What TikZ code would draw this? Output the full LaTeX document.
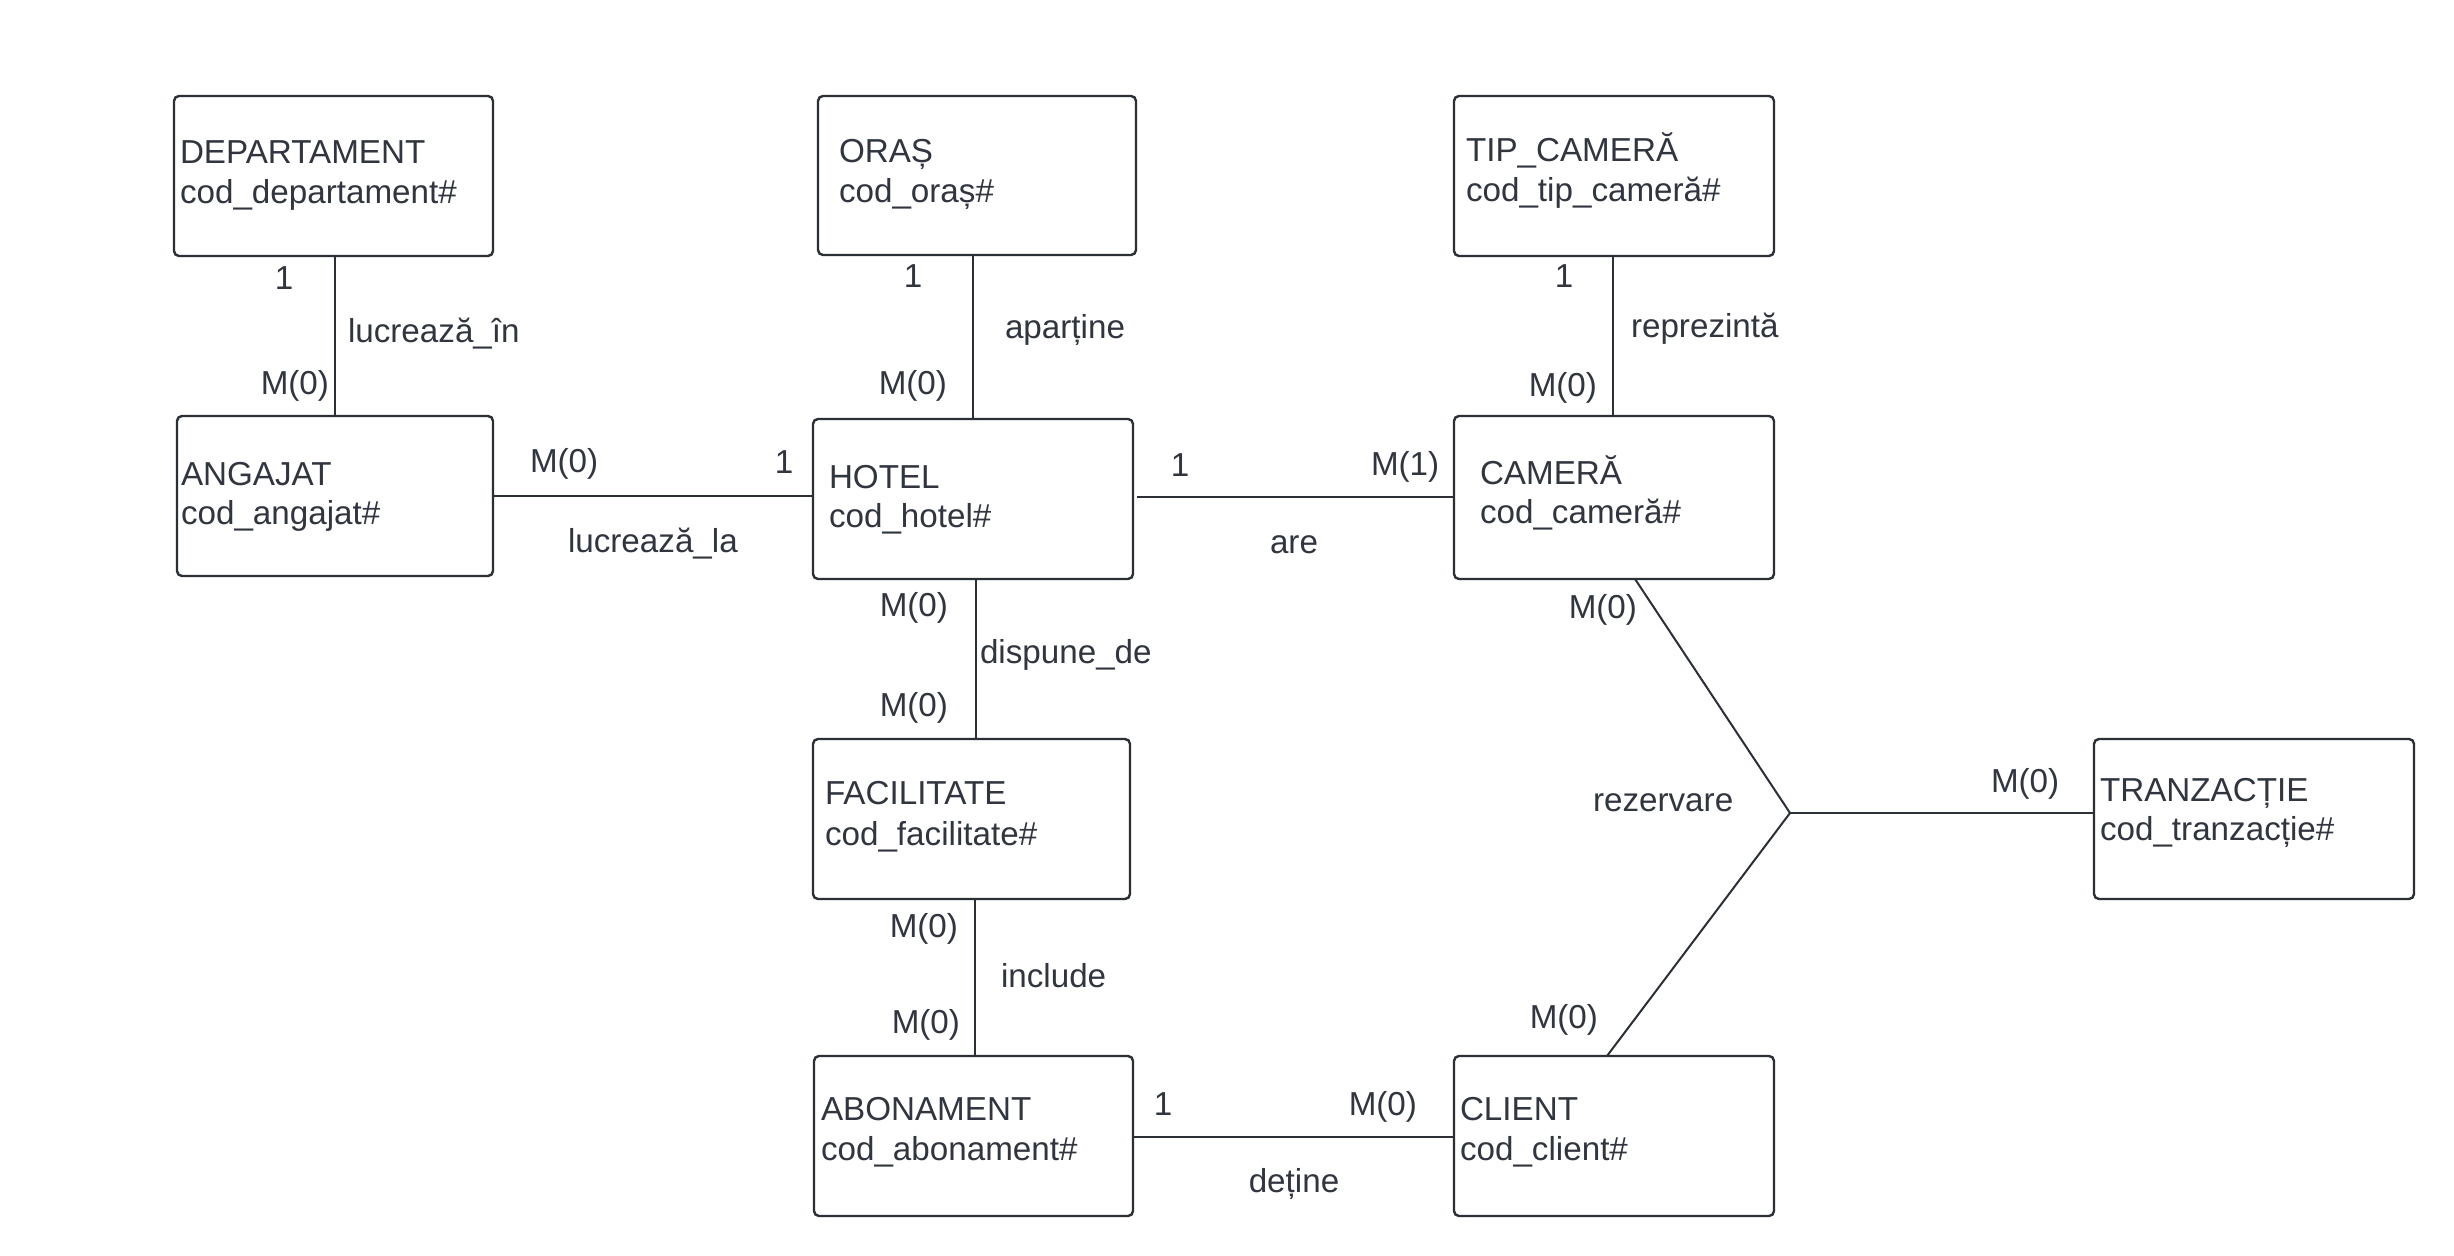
\documentclass[tikz,border=0pt]{standalone}
\usepackage{fontspec}
\setmainfont{Liberation Sans}
\definecolor{linec}{HTML}{2B2F36}
\definecolor{textc}{HTML}{30353F}
\begin{document}
\begin{tikzpicture}[x=0.5pt,y=-0.5pt,
  ebox/.style={draw=linec, line width=1.2pt, rounded corners=2.5pt, inner sep=0pt, outer sep=0pt},
  txt/.style={text=textc, font=\fontsize{16.6}{19}\selectfont, inner sep=0pt, outer sep=0pt},
  conn/.style={draw=linec, line width=1pt}]
\useasboundingbox[fill=white] (0,0) rectangle (2454,1256);
% entity boxes
\node[ebox, minimum width=159.5pt, minimum height=80pt] (dep) at (333.5,176) {};
\node[ebox, minimum width=158pt, minimum height=80pt] (ang) at (335,496) {};
\node[ebox, minimum width=159pt, minimum height=79.5pt] (oras) at (977,175.5) {};
\node[ebox, minimum width=160pt, minimum height=80pt] (hotel) at (973,499) {};
\node[ebox, minimum width=160pt, minimum height=80pt] (tip) at (1614,176) {};
\node[ebox, minimum width=160pt, minimum height=81.5pt] (cam) at (1614,497.5) {};
\node[ebox, minimum width=158.5pt, minimum height=80pt] (fac) at (971.5,819) {};
\node[ebox, minimum width=159.5pt, minimum height=80pt] (abon) at (973.5,1136) {};
\node[ebox, minimum width=160pt, minimum height=80pt] (client) at (1614,1136) {};
\node[ebox, minimum width=160pt, minimum height=80pt] (tranz) at (2254,819) {};
% entity texts
\node[txt, anchor=base west] (tdep1) at (180,164) {DEPARTAMENT};
\node[txt, anchor=base west] (tdep2) at (180,204) {cod\_departament\#};
\node[txt, anchor=base west] (tang1) at (181,486) {ANGAJAT};
\node[txt, anchor=base west] (tang2) at (181,525) {cod\_angajat\#};
\node[txt, anchor=base west] (tor1) at (839,163) {ORAȘ};
\node[txt, anchor=base west] (tor2) at (839,203) {cod\_oraș\#};
\node[txt, anchor=base west] (tho1) at (829,489) {HOTEL};
\node[txt, anchor=base west] (tho2) at (829,528) {cod\_hotel\#};
\node[txt, anchor=base west] (ttip1) at (1466,162) {TIP\_CAMERĂ};
\node[txt, anchor=base west] (ttip2) at (1466,202) {cod\_tip\_cameră\#};
\node[txt, anchor=base west] (tcam1) at (1480,485) {CAMERĂ};
\node[txt, anchor=base west] (tcam2) at (1480,524) {cod\_cameră\#};
\node[txt, anchor=base west] (tfac1) at (825,805) {FACILITATE};
\node[txt, anchor=base west] (tfac2) at (825,845) {cod\_facilitate\#};
\node[txt, anchor=base west] (tab1) at (821,1120) {ABONAMENT};
\node[txt, anchor=base west] (tab2) at (821,1160) {cod\_abonament\#};
\node[txt, anchor=base west] (tcl1) at (1460,1120) {CLIENT};
\node[txt, anchor=base west] (tcl2) at (1460,1160) {cod\_client\#};
\node[txt, anchor=base west] (ttr1) at (2100,802) {TRANZACȚIE};
\node[txt, anchor=base west] (ttr2) at (2100,841) {cod\_tranzacție\#};
% connectors
\draw[conn] (ang.north) -- (ang.north |- dep.south);
\draw[conn] (hotel.north) -- (hotel.north |- oras.south);
\draw[conn] ([xshift=-0.5pt]tip.south) -- ([xshift=-0.5pt]tip.south |- cam.north);
\draw[conn] (ang.east) -- (ang.east -| hotel.west);
\draw[conn] ([xshift=2pt]hotel.east |- cam.west) -- (cam.west);
\draw[conn] ([xshift=1.5pt]hotel.south) -- ([xshift=1.5pt]hotel.south |- fac.north);
\draw[conn] ([xshift=1.75pt]fac.south) -- ([xshift=1.75pt]fac.south |- abon.north);
\draw[conn] (abon.east |- 0,1137) -- (client.west |- 0,1137);
\coordinate (j) at (1790,813);
\draw[conn] ([xshift=10.5pt]cam.south) -- (j);
\draw[conn] (j) -- (j -| tranz.west);
\draw[conn] (j) -- ([xshift=-3.5pt]client.north);
% cardinality and relationship labels
\node[txt, anchor=base] (c1) at (284,290) {1};
\node[txt, anchor=base west] (r1) at (348,343) {lucrează\_în};
\node[txt, anchor=base east] (c2) at (329,395) {M(0)};
\node[txt, anchor=base west] (c3) at (530,473) {M(0)};
\node[txt, anchor=base] (c4) at (784,474) {1};
\node[txt, anchor=base west] (r2) at (568,553) {lucrează\_la};
\node[txt, anchor=base] (c5) at (913,288) {1};
\node[txt, anchor=base west] (r3) at (1005,339) {aparține};
\node[txt, anchor=base east] (c6) at (947,395) {M(0)};
\node[txt, anchor=base] (c7) at (1180,477) {1};
\node[txt, anchor=base west] (c8) at (1371,476) {M(1)};
\node[txt, anchor=base] (r4) at (1294,554) {are};
\node[txt, anchor=base] (c9) at (1564,288) {1};
\node[txt, anchor=base west] (r5) at (1631,338) {reprezintă};
\node[txt, anchor=base east] (c10) at (1597,397) {M(0)};
\node[txt, anchor=base east] (c11) at (948,617) {M(0)};
\node[txt, anchor=base west] (r6) at (980,664) {dispune\_de};
\node[txt, anchor=base east] (c12) at (948,717) {M(0)};
\node[txt, anchor=base east] (c13) at (958,937) {M(0)};
\node[txt, anchor=base west] (r7) at (1001,987) {include};
\node[txt, anchor=base east] (c14) at (960,1033) {M(0)};
\node[txt, anchor=base] (c15) at (1163,1115) {1};
\node[txt, anchor=base east] (c16) at (1417,1115) {M(0)};
\node[txt, anchor=base] (r8) at (1294,1192) {deține};
\node[txt, anchor=base east] (c17) at (1637,619) {M(0)};
\node[txt, anchor=base west] (r9) at (1593,812) {rezervare};
\node[txt, anchor=base west] (c18) at (1991,792) {M(0)};
\node[txt, anchor=base east] (c19) at (1598,1028) {M(0)};
\end{tikzpicture}
\end{document}
